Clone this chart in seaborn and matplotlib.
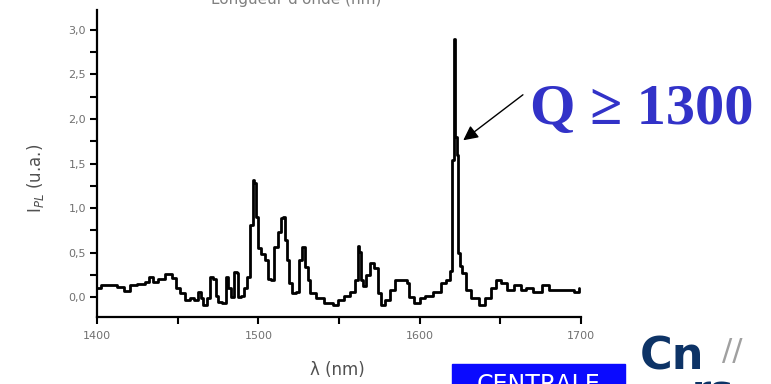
#!/usr/bin/env python3

import matplotlib
matplotlib.use("Agg")
import matplotlib.pyplot as plt
from matplotlib.patches import Rectangle
import seaborn as sns

# photoluminescence spectrum
wavelength = [1400, 1405, 1411, 1414, 1419, 1422, 1428, 1431, 1434, 1436,
              1439, 1445, 1448, 1450, 1453, 1456, 1459, 1461, 1464, 1465,
              1467, 1469, 1471, 1473, 1474, 1476, 1479, 1481, 1482, 1484,
              1486, 1487, 1488, 1490, 1492, 1494, 1496, 1497, 1498, 1499,
              1500.5, 1503, 1505, 1507, 1509, 1511, 1513, 1515, 1516, 1517,
              1518, 1520, 1522, 1525, 1526, 1528, 1530, 1531, 1533, 1538,
              1544, 1548, 1551, 1555, 1559, 1561, 1562, 1563, 1564, 1566,
              1568, 1571, 1573, 1575, 1577, 1580, 1583, 1587, 1591, 1593,
              1594, 1599, 1601, 1606, 1611, 1615, 1618, 1619.5, 1620.5, 1621.5,
              1622.5, 1623.5, 1624.5, 1626, 1627, 1630, 1634, 1639, 1642, 1646,
              1649, 1652, 1656, 1661, 1664, 1668, 1673, 1679, 1681, 1687,
              1693, 1698, 1699]
intensity = [0.10, 0.135, 0.135, 0.115, 0.07, 0.135, 0.155, 0.17, 0.23, 0.17,
             0.21, 0.26, 0.22, 0.10, 0.045, -0.03, -0.01, -0.03, 0.06, -0.01,
             -0.09, -0.01, 0.23, 0.21, 0.02, -0.05, -0.06, 0.23, 0.11, 0.0,
             0.28, 0.27, 0.0, 0.02, 0.10, 0.23, 0.81, 1.31, 1.28, 0.90,
             0.55, 0.49, 0.42, 0.21, 0.19, 0.56, 0.73, 0.89, 0.90, 0.64,
             0.42, 0.16, 0.045, 0.06, 0.42, 0.56, 0.34, 0.19, 0.045, -0.01,
             -0.06, -0.09, -0.03, 0.02, 0.06, 0.19, 0.58, 0.51, 0.19, 0.13,
             0.25, 0.38, 0.33, 0.045, -0.09, -0.03, 0.08, 0.19, 0.19, 0.16,
             0.0, -0.06, -0.01, 0.02, 0.06, 0.16, 0.19, 0.30, 1.54, 2.89,
             1.80, 1.60, 0.50, 0.35, 0.27, 0.08, -0.01, -0.09, -0.01, 0.10,
             0.19, 0.16, 0.08, 0.135, 0.08, 0.11, 0.06, 0.135, 0.08, 0.08,
             0.08, 0.06, 0.10]

x_ticks = [1400, 1500, 1600, 1700]
x_ticklabels = ["1400", "1500", "1600", "1700"]
y_ticks = [0.0, 0.5, 1.0, 1.5, 2.0, 2.5, 3.0]
y_ticklabels = ["0,0", "0,5", "1,0", "1,5", "2,0", "2,5", "3,0"]

sns.set_style("ticks")
plt.rcParams["font.family"] = ["DejaVu Sans"]

fig = plt.figure(figsize=(7.71, 3.84), dpi=100)
ax = fig.add_axes([97 / 771, 67 / 384, 484 / 771, 307 / 384])

sns.lineplot(x=wavelength, y=intensity, ax=ax, color="black",
             linewidth=2, drawstyle="steps-mid", sort=True)

ax.set_xlim(1400, 1700)
ax.set_ylim(-0.22, 3.22)
ax.set_xticks(x_ticks)
ax.set_xticklabels(x_ticklabels)
ax.set_xticks([1450, 1550, 1650], minor=True)
ax.set_yticks(y_ticks)
ax.set_yticklabels(y_ticklabels)
ax.set_yticks([0.25, 0.75, 1.25, 1.75, 2.25, 2.75], minor=True)
ax.tick_params(which="both", direction="out", length=5, width=1.5,
               color="black", labelsize=8, labelcolor="#707070")
ax.tick_params(axis="x", pad=5)
ax.tick_params(axis="y", pad=3)
sns.despine(ax=ax)
for s in ["left", "bottom"]:
    ax.spines[s].set_linewidth(1.6)
    ax.spines[s].set_color("black")
ax.set_xlabel("")
ax.set_ylabel("")

fig.text(337 / 771, 1 - 370 / 384, "\u03bb (nm)", ha="center", va="center",
         fontsize=12, color="#505050")
fig.text(35 / 771, 1 - 178 / 384, "I$_{PL}$ (u.a.)", ha="center", va="center",
         rotation=90, fontsize=12, color="#505050")
fig.text(296 / 771, 1 - 4 / 384, "Longueur d'onde (nm)", ha="center",
         va="baseline", fontsize=11, color="#808080")

# arrow to the resonance peak
ax.annotate("", xy=(1627, 1.76), xytext=(1664, 2.27),
            arrowprops=dict(arrowstyle="-|>", color="black", lw=1,
                            mutation_scale=22, shrinkA=0, shrinkB=0),
            annotation_clip=False)
fig.text(530 / 771, 1 - 124 / 384, "Q \u2265 1300", ha="left", va="baseline",
         fontsize=42, fontweight="bold", color="#3232c8",
         family=["Liberation Serif", "DejaVu Serif"])

# logos at the bottom right, cut by the frame
fig.patches.append(Rectangle((452 / 771, 0), 173 / 771, 20 / 384,
                             transform=fig.transFigure, color="#0a0aff"))
fig.text(538 / 771, 1 - 392 / 384, "CENTRALE", ha="center", va="baseline",
         fontsize=17, color="white")
fig.text(640 / 771, 1 - 370 / 384, "Cn", ha="left", va="baseline",
         fontsize=32, fontweight="bold", color="#0d3366")
fig.text(692 / 771, 1 - 404 / 384, "rs", ha="left", va="baseline",
         fontsize=28, fontweight="bold", color="#0d3366")
fig.text(722 / 771, 1 - 360 / 384, "//", ha="left", va="baseline",
         fontsize=22, color="#a0a0a0")

fig.savefig("out.png", dpi=100)
